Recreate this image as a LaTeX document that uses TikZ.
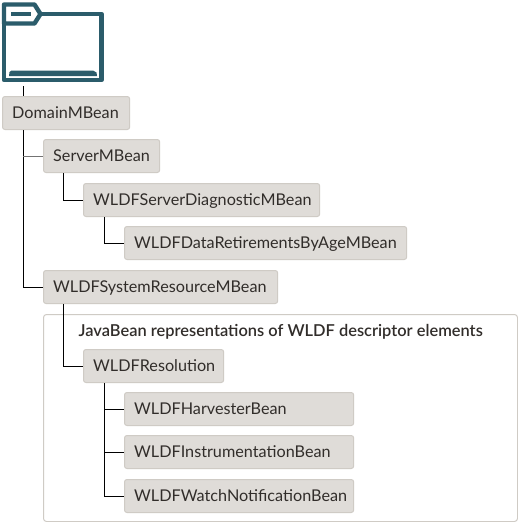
\documentclass[tikz,border=0pt]{standalone}
\usepackage{fontspec}
\setmainfont{Lato}
\newfontfamily\semifont{Lato Semibold}
\definecolor{boxfill}{HTML}{DFDCD8}
\definecolor{boxline}{HTML}{CFCBC5}
\definecolor{teal}{HTML}{2B5C6B}
\definecolor{ink}{HTML}{312D2A}
\tikzset{
  bean/.style={draw=boxline,line width=1pt,fill=boxfill,rounded corners=2.5pt,minimum height=33pt,inner sep=0pt,anchor=north west},
  beantext/.style={anchor=base west,inner sep=0pt,text=ink,font=\fontsize{16.2}{18}\selectfont},
  link/.style={draw=black,line width=1pt},
  iconline/.style={draw=teal,line width=4.4pt,line join=round}
}
\newcommand{\bean}[6]{\node[bean,minimum width=#4pt-#2pt-0.8pt] (#1) at (#2,#3) {};\node[beantext] (#1t) at (#2+10,#3+#5) {#6};}
\begin{document}
\begin{tikzpicture}[x=1pt,y=-1pt]
\useasboundingbox (0,0) rectangle (518,522);
\fill[white] (0,0) rectangle (518,522);
% icon
\draw[iconline] (4,24) -- (4,80) -- (101.5,80) -- (101.5,14) -- (41,14);
\draw[iconline] (4,4.5) -- (34.5,4.5) -- (40.5,14) -- (34.5,23.5) -- (4,23.5) -- cycle;
\draw[teal,line width=3.5pt] (11,14) -- (31,14);
\fill[teal] (9,76) -- (9.5,72) -- (11.5,70.5) -- (93,70.5) -- (96.5,72.5) -- (97,76) -- cycle;
\coordinate (folder) at (23,86);
% container
\node[draw=boxline,line width=1pt,fill=white,rounded corners=3pt,minimum width=474pt,minimum height=207pt,inner sep=0pt,anchor=north west] (group) at (43,314) {};
\node[anchor=base west,inner sep=0pt,text=ink,font=\fontsize{16.42}{18}\semifont] (grouplabel) at (78.5,336) {JavaBean representations of WLDF descriptor elements};
% boxes
\bean{domain}{2}{96}{130}{22}{DomainMBean}
\bean{server}{43}{139}{160}{22}{ServerMBean}
\bean{diag}{83}{183}{320}{22}{WLDFServerDiagnosticMBean}
\bean{retire}{124}{226}{407}{22}{WLDFDataRetirementsByAgeMBean}
\bean{system}{43}{270}{278}{22}{WLDFSystemResourceMBean}
\bean{resol}{83}{349}{224}{22}{WLDFResolution}
\bean{harv}{124}{392}{354}{22}{WLDFHarvesterBean}
\bean{instr}{124}{435}{354}{22}{WLDFInstrumentationBean}
\bean{watch}{124}{479}{354}{22}{WLDFWatchNotificationBean}
% connectors
\draw[link] (folder) -- (folder |- domain.north);
\draw[link] (folder |- domain.south) |- (system.west);
\draw[link,draw=black!55] (folder |- server.west) -- (server.west);
\coordinate (sx) at (63,0);
\draw[link] (sx |- server.south) |- (diag.west);
\coordinate (dx) at (104,0);
\draw[link] (dx |- diag.south) |- (retire.west);
\draw[link] (sx |- system.south) |- (resol.west);
\draw[link] (dx |- resol.south) |- (watch.west);
\draw[link] (dx |- harv.west) -- (harv.west);
\draw[link] (dx |- instr.west) -- (instr.west);
\end{tikzpicture}
\end{document}
